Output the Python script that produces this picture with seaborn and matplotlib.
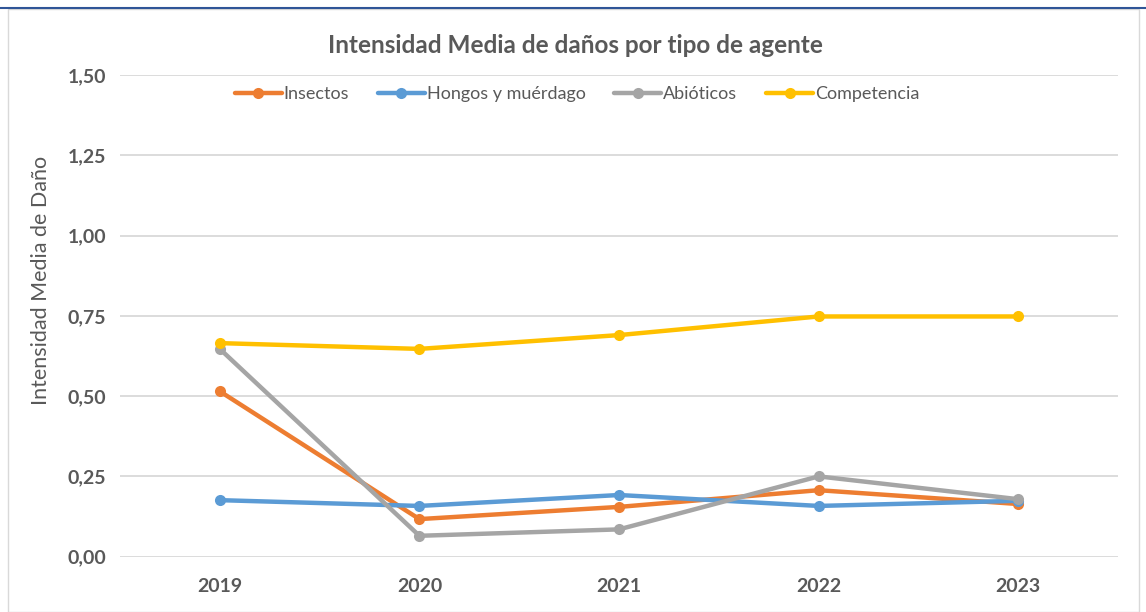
import pandas as pd
import matplotlib.pyplot as plt
import seaborn as sns
from matplotlib.lines import Line2D
from matplotlib.patches import Rectangle

# values
years = ['2019', '2020', '2021', '2022', '2023']
insectos = [0.515, 0.117, 0.155, 0.207, 0.164]
hongos = [0.176, 0.158, 0.192, 0.158, 0.174]
abioticos = [0.647, 0.065, 0.085, 0.250, 0.179]
competencia = [0.665, 0.647, 0.690, 0.748, 0.748]

series = ['Insectos', 'Hongos y muérdago', 'Abióticos', 'Competencia']
colors = ['#ED7D31', '#5B9BD5', '#A5A5A5', '#FFC000']

df = pd.DataFrame({
    'year': years * 4,
    'value': insectos + hongos + abioticos + competencia,
    'agente': [s for s in series for _ in years],
})

sns.set_style('white')
plt.rcParams['font.family'] = ['Lato', 'DejaVu Sans']
txt = '#595959'

fig = plt.figure(figsize=(11.46, 6.12), dpi=100)
ax = fig.add_axes([0.1047, 0.0904, 0.8709, 0.7871])

sns.lineplot(data=df, x='year', y='value', hue='agente', palette=colors,
             hue_order=series, marker='o', markersize=8, markeredgewidth=0,
             linewidth=3.2, sort=False, ax=ax, legend=False)

ax.set_xlim(-0.5, 4.5)
ax.set_ylim(0, 1.5)
ax.set_yticks([0, 0.25, 0.5, 0.75, 1.0, 1.25, 1.5])
ax.set_yticklabels(['0,00', '0,25', '0,50', '0,75', '1,00', '1,25', '1,50'])
ax.grid(axis='y', color='#D9D9D9', linewidth=1.3)
ax.set_axisbelow(True)
for sp in ax.spines.values():
    sp.set_visible(False)
ax.tick_params(axis='both', length=0, labelsize=14, labelcolor=txt, pad=10)
for lab in ax.get_xticklabels() + ax.get_yticklabels():
    lab.set_fontweight('bold')
ax.tick_params(axis='x', pad=15)
ax.set_xlabel('')
ax.set_ylabel('Intensidad Media de Daño', fontsize=15.5, color=txt)
ax.yaxis.set_label_coords(-0.069, 0.573)

fig.text(0.502, 0.926, 'Intensidad Media de daños por tipo de agente',
         ha='center', va='center', fontsize=17.5, fontweight='bold', color=txt)

handles = [Line2D([0], [0], color=c, linewidth=3.2, marker='o', markersize=8,
                  markeredgewidth=0) for c in colors]
ax.legend(handles, series, loc='center', bbox_to_anchor=(0.458, 0.96), ncol=4,
          frameon=False, fontsize=13, labelcolor=txt, handlelength=2.6,
          handletextpad=0.1, columnspacing=1.6)

# chart frame
fig.add_artist(Rectangle((0.007, 0.0), 0.987, 0.985, transform=fig.transFigure,
                         fill=False, edgecolor='#D9D9D9', linewidth=1))
fig.add_artist(Line2D([0, 1], [0.987, 0.987], transform=fig.transFigure,
                      color='#2F5597', linewidth=1.5))

fig.savefig('out.png', dpi=100)
